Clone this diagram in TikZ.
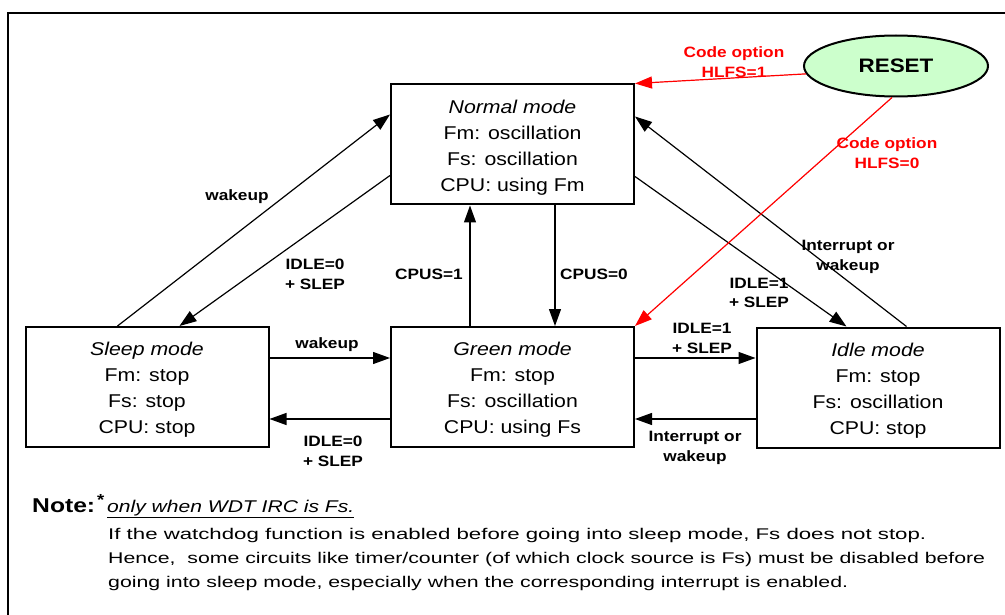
\documentclass[tikz,border=0pt]{standalone}
\usepackage{graphicx}
\usepackage{fontspec}
\setmainfont{Liberation Sans}[FakeStretch=1.15]
\usetikzlibrary{arrows.meta,shapes.geometric}
\definecolor{resetgreen}{RGB}{204,255,204}
\newcommand\firstline{\rule{0pt}{19.5pt}}
\newcommand\fitw[2]{\resizebox{#1}{\height}{#2}}
\begin{document}
\begin{tikzpicture}[x=1pt,y=-1pt,
  mode/.style={draw,line width=2pt,inner sep=0pt,minimum width=243pt,minimum height=120pt,align=center,font=\fontsize{18.5}{26}\selectfont},
  conn/.style={line width=1.2pt,-{Triangle[length=17pt,width=12pt]}},
  rconn/.style={conn,draw=red,fill=red},
  lbl/.style={font=\fontsize{15}{19.5}\selectfont\bfseries,align=center,inner sep=0pt},
  rlbl/.style={lbl,text=red},
  notefont/.style={font=\fontsize{15.5}{20}\selectfont,inner sep=0pt,anchor=base west}
  ]
\useasboundingbox (0,0) rectangle (1005,615);
% frame
\draw[line width=2pt] (8,616) -- (8,13) -- (1006,13);

% mode boxes
\node[mode] (normal) at (512.5,144.5) {\firstline\textit{Normal mode}\\Fm: oscillation\\Fs: oscillation\\CPU: using Fm};
\node[mode] (sleep) at (147,387) {\firstline\textit{Sleep mode}\\Fm: stop\\Fs: stop\\CPU: stop};
\node[mode] (green) at (512.5,387) {\firstline\textit{Green mode}\\Fm: stop\\Fs: oscillation\\CPU: using Fs};
\node[mode] (idle) at (878,387.5) {\firstline\textit{Idle mode}\\Fm: stop\\Fs: oscillation\\CPU: stop};

% reset
\node[ellipse,draw,line width=2pt,fill=resetgreen,minimum width=184pt,minimum height=61pt,inner sep=0pt,font=\fontsize{19.5}{20}\selectfont\bfseries] (reset) at (896,66) {RESET};

% connectors
\draw[conn] ([xshift=93pt]sleep.north west) -- ([yshift=-31pt]normal.north west);
\draw[conn] ([yshift=-92pt]normal.north west) -- ([xshift=155pt]sleep.north west);
\draw[conn] ([xshift=42.5pt]normal.south) -- ([xshift=42.5pt]green.north);
\draw[conn] ([xshift=-42.5pt]green.north) -- ([xshift=-42.5pt]normal.south);
\draw[conn] ([yshift=29pt]sleep.east) -- ([yshift=29pt]green.west);
\draw[conn] ([yshift=-32pt]green.west) -- ([yshift=-32pt]sleep.east);
\draw[conn] ([yshift=29pt]green.east) -- ([yshift=29.5pt]idle.west);
\draw[conn] ([yshift=-31.5pt]idle.west) -- ([yshift=-32pt]green.east);
\draw[conn] ([yshift=-93pt]normal.north east) -- ([xshift=91pt]idle.north west);
\draw[conn] ([xshift=151pt]idle.north west) -- ([yshift=-33pt]normal.north east);
\draw[rconn] (reset.185) -- (normal.north east);
\draw[rconn] ([xshift=-4pt]reset.south) -- (green.north east);

% labels
\node[lbl] (l1) at (237,197) {wakeup};
\node[lbl] (l2) at (315,274.5) {IDLE=0\\+ SLEP};
\node[lbl] (l3) at (429,274) {CPUS=1};
\node[lbl] (l4) at (594,274) {CPUS=0};
\node[lbl] (l5) at (327,345) {wakeup};
\node[lbl] (l6) at (333,451.5) {IDLE=0\\+ SLEP};
\node[lbl] (l7) at (702,338.5) {IDLE=1\\+ SLEP};
\node[lbl] (l8) at (695,448) {Interrupt or\\wakeup};
\node[lbl] (l9) at (759,293) {IDLE=1\\+ SLEP};
\node[lbl] (l10) at (848,257) {Interrupt or\\wakeup};
\node[rlbl] (r1) at (734,62) {Code option\\HLFS=1};
\node[rlbl] (r2) at (887,153) {Code option\\HLFS=0};

% note
\node[inner sep=0pt,anchor=base west,font=\fontsize{20}{22}\selectfont\bfseries] (note) at (32,512) {\fitw{63pt}{Note:}};
\node[inner sep=0pt,anchor=base west,font=\fontsize{16}{16}\selectfont\bfseries] (star) at (97,505) {*};
\node[inner sep=0pt,anchor=base west,font=\fontsize{17}{18}\selectfont] (only) at (107,512) {\fitw{247pt}{\underline{\textit{only when WDT IRC is Fs.}}}};
\node[notefont] (n1) at (108,539.5) {\fitw{818pt}{If the watchdog function is enabled before going into sleep mode, Fs does not stop.}};
\node[notefont] (n2) at (108,563.5) {\fitw{877pt}{Hence,\ \ some circuits like timer/counter (of which clock source is Fs) must be disabled before}};
\node[notefont] (n3) at (108,587) {\fitw{740pt}{going into sleep mode, especially when the corresponding interrupt is enabled.}};
\end{tikzpicture}
\end{document}
